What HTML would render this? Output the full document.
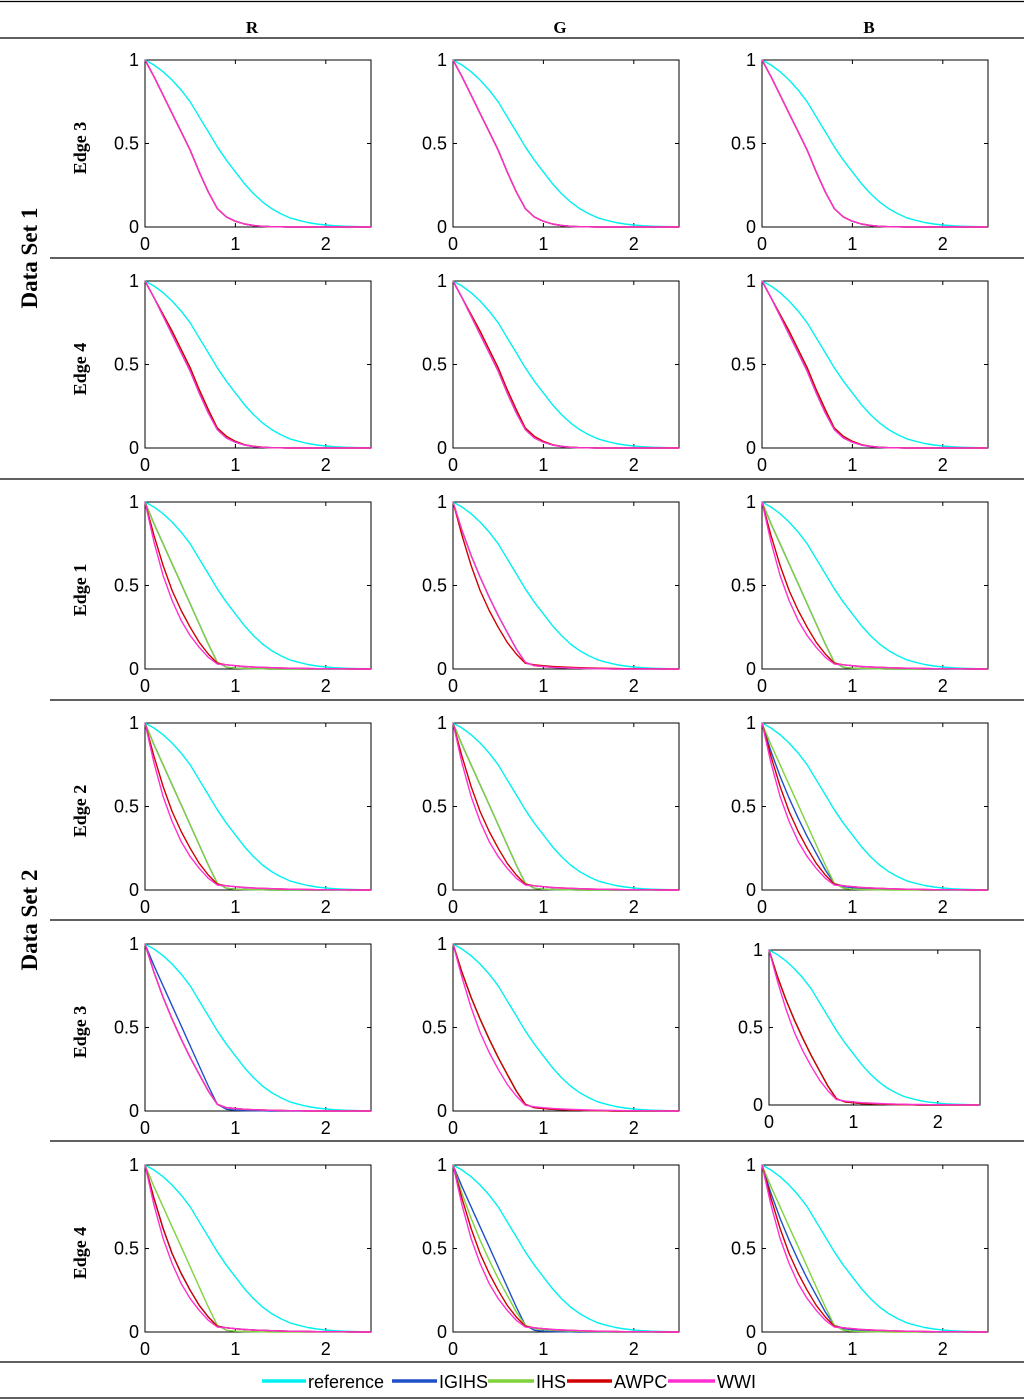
<!DOCTYPE html>
<html><head><meta charset="utf-8">
<style>
body{margin:0;background:#fff;}
svg{display:block;}
.tk{font-family:"Liberation Sans",sans-serif;font-size:18px;fill:#000;}
.hd{font-family:"Liberation Serif",serif;font-weight:bold;font-size:17px;fill:#000;}
.rl{font-family:"Liberation Serif",serif;font-weight:bold;font-size:18px;fill:#000;}
.ds{font-family:"Liberation Serif",serif;font-weight:bold;font-size:23px;fill:#000;}
.lg{font-family:"Liberation Sans",sans-serif;font-size:18px;fill:#000;}
</style></head>
<body>
<svg id="fig" width="1024" height="1400" viewBox="0 0 1024 1400"></svg>
<script>
const xs=[0,0.1,0.2,0.3,0.4,0.5,0.6,0.7,0.8,0.9,1.0,1.1,1.2,1.3,1.4,1.5,1.6,1.7,1.8,1.9,2.0,2.1,2.2,2.3,2.4,2.5];
const refCurve=[1,0.97,0.93,0.88,0.82,0.75,0.66,0.57,0.48,0.40,0.33,0.26,0.20,0.15,0.11,0.08,0.055,0.04,0.027,0.018,0.012,0.008,0.005,0.003,0.002,0.001];
const linA=[1,0.9,0.79,0.68,0.57,0.46,0.33,0.21,0.11,0.06,0.035,0.018,0.009,0.004,0.002,0.001,0,0,0,0,0,0,0,0,0,0];
const linB=[1,0.9,0.8,0.7,0.59,0.48,0.35,0.23,0.12,0.07,0.04,0.02,0.01,0.005,0.002,0.001,0,0,0,0,0,0,0,0,0,0];
const lin2=[1,0.87,0.75,0.63,0.51,0.39,0.27,0.15,0.04,0.01,0.005,0.003,0.002,0.001,0,0,0,0,0,0,0,0,0,0,0,0];
const mid2=[1,0.83,0.68,0.55,0.43,0.32,0.22,0.12,0.04,0.02,0.015,0.01,0.008,0.006,0.004,0.003,0.002,0.001,0,0,0,0,0,0,0,0];
const cvx2=[1,0.76,0.56,0.41,0.29,0.2,0.13,0.07,0.03,0.025,0.02,0.015,0.012,0.01,0.008,0.006,0.005,0.004,0.003,0.002,0.002,0.001,0.001,0,0,0];
const cvx3=[1,0.8,0.62,0.47,0.35,0.25,0.16,0.09,0.035,0.025,0.02,0.015,0.012,0.01,0.008,0.006,0.005,0.004,0.003,0.002,0.002,0.001,0.001,0,0,0];
const seriesNames=["reference","IGIHS","IHS","AWPC","WWI"];
const seriesColors=["#00f0f0","#1f4fc8","#7fd23c","#d00000","#ff30d0"];
const colLabels=["R","G","B"];
const rowLabels=["Edge 3","Edge 4","Edge 1","Edge 2","Edge 3","Edge 4"];
const xTicks=[0,1,2];
const yTicks=[0,0.5,1];
const yTickLabels=["0","0.5","1"];
const panelCurves=[
 [[linA,linA,linA,linA],[linA,linA,linA,linA],[linA,linA,linA,linA]],
 [[linA,linB,linB,linA],[linA,linA,linB,linA],[linA,linB,linB,linA]],
 [[lin2,lin2,cvx3,cvx2],[mid2,mid2,cvx3,mid2],[lin2,lin2,cvx3,cvx2]],
 [[lin2,lin2,cvx3,cvx2],[lin2,lin2,cvx3,cvx2],[mid2,lin2,cvx3,cvx2]],
 [[lin2,mid2,mid2,mid2],[mid2,mid2,mid2,cvx3],[mid2,mid2,mid2,cvx3]],
 [[cvx3,lin2,cvx3,cvx2],[lin2,mid2,cvx3,cvx2],[mid2,lin2,cvx3,cvx2]]
];
const NS="http://www.w3.org/2000/svg";
const svg=document.getElementById("fig");
function mk(tag,attrs,parent){const e=document.createElementNS(NS,tag);for(const k in attrs)e.setAttribute(k,attrs[k]);(parent||svg).appendChild(e);return e;}
function hline(y,x1){const l=mk("line",{x1:x1,x2:1024,y1:y,y2:y,stroke:"#000","stroke-width":1.3});

}
hline(1.5,0);hline(38,0);hline(258,50);hline(479,0);hline(700,50);hline(920,50);hline(1141,50);hline(1362,0);hline(1398,0);
const colCx=[252,560,869];
colLabels.forEach((c,i)=>{const t=mk("text",{x:colCx[i],y:33,"text-anchor":"middle",class:"hd"});t.textContent=c;

});
[["Data Set 1",258],["Data Set 2",920]].forEach(([s,cy])=>{const t=mk("text",{x:0,y:0,"text-anchor":"middle",class:"ds",transform:`translate(37,${cy}) rotate(-90)`});t.textContent=s;

});
const boxX=[145,453,762];
for(let r=0;r<6;r++){
 const top=60+221*r;
 const lab=mk("text",{x:0,y:0,"text-anchor":"middle",class:"rl",transform:`translate(86,${top+88}) rotate(-90)`});lab.textContent=rowLabels[r];
 
 
 for(let c=0;c<3;c++){
  let x0=boxX[c],w=226,y0=top,h=167,xmax=2.5;
  if(r===4&&c===2){x0=769;w=211;y0=950;h=155;xmax=2.5;}
  const g=mk("g",{});
  
  
  const sx=v=>x0+v/xmax*w, sy=v=>y0+h-v*h;
  const box=mk("rect",{x:x0,y:y0,width:w,height:h,fill:"none",stroke:"#000","stroke-width":1},g);
  
  
  xTicks.forEach(v=>{mk("line",{x1:sx(v),x2:sx(v),y1:y0+h,y2:y0+h-4,stroke:"#000"},g);mk("line",{x1:sx(v),x2:sx(v),y1:y0,y2:y0+4,stroke:"#000"},g);
   const t=mk("text",{x:sx(v),y:y0+h+23,"text-anchor":"middle",class:"tk"},g);t.textContent=String(v);
   
   });
  yTicks.forEach((v,i)=>{mk("line",{x1:x0,x2:x0+4,y1:sy(v),y2:sy(v),stroke:"#000"},g);mk("line",{x1:x0+w,x2:x0+w-4,y1:sy(v),y2:sy(v),stroke:"#000"},g);
   const t=mk("text",{x:x0-6,y:sy(v)+6,"text-anchor":"end",class:"tk"},g);t.textContent=yTickLabels[i];
   
   });
  const curves=[refCurve].concat(panelCurves[r][c]);
  curves.forEach((arr,si)=>{
   const d=arr.map((v,i)=>(i?"L":"M")+sx(xs[i]).toFixed(1)+","+sy(v).toFixed(1)).join(" ");
   const p=mk("path",{d:d,fill:"none",stroke:seriesColors[si],"stroke-width":1.4,"stroke-linejoin":"round"},g);
   
   
  });
 }
}
const lgX=[262,392,488,567,668],lgW=[44,45,46,45,47];
const lg=mk("g",{});


seriesNames.forEach((n,i)=>{
 const l=mk("line",{x1:lgX[i],x2:lgX[i]+lgW[i],y1:1381,y2:1381,stroke:seriesColors[i],"stroke-width":3.5},lg);
 
 
 const t=mk("text",{x:lgX[i]+lgW[i]+2,y:1388,class:"lg"},lg);t.textContent=n;
 
 
});
</script>
</body></html>
